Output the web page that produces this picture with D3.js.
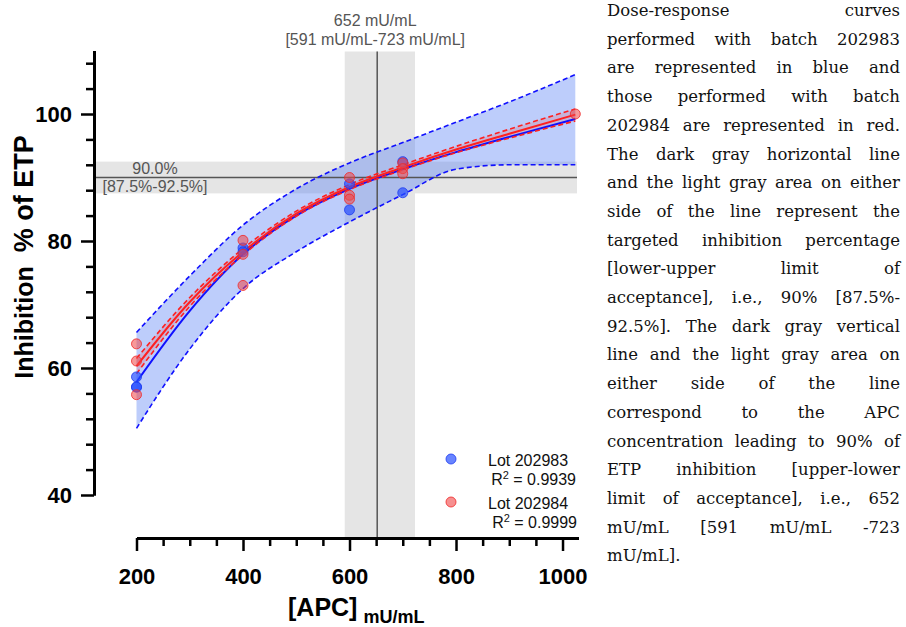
<!DOCTYPE html>
<html>
<head>
<meta charset="utf-8">
<script src="https://cdn.jsdelivr.net/npm/d3@7"></script>
<style>
body{margin:0;background:#fff}
svg{display:block}
</style>
</head>
<body>
<svg id="chart" width="906" height="627"></svg>
<script>
// measured points, APC in mU/mL vs % inhibition of ETP
var lotA_x = [200, 200, 200, 400, 400, 600, 600, 700, 700];
var lotA_y = [58.6, 57.0, 57.0, 78.9, 78.3, 89.0, 84.9, 92.5, 87.6];
var lotB_x = [200, 200, 200, 400, 400, 400, 600, 600, 600, 700, 700, 700, 1024];
var lotB_y = [63.8, 61.1, 55.8, 80.1, 77.9, 73.0, 90.0, 87.2, 86.6, 92.3, 91.4, 90.6, 100.0];

// fitted curves + confidence bands
var curveDose = [200, 300, 400, 500, 600, 700, 800, 900, 1024];
var lotA_fit = [57.8, 69.0, 77.9, 84.0, 88.2, 91.3, 94.0, 96.4, 99.2];
var lotA_hi  = [65.6, 74.5, 82.5, 88.2, 92.3, 95.5, 98.7, 101.9, 106.2];
var lotA_lo  = [50.5, 63.0, 72.5, 78.3, 83.0, 87.3, 91.3, 92.0, 92.0];
var lotB_fit = [60.3, 70.4, 78.3, 84.3, 88.5, 91.6, 94.4, 96.9, 99.9];
var lotB_hi  = [61.5, 71.1, 78.8, 84.7, 88.9, 92.0, 94.9, 97.6, 100.8];
var lotB_lo  = [59.1, 69.7, 77.8, 83.9, 88.1, 91.2, 93.9, 96.2, 98.9];

// target lines
var target = [90.0, 87.5, 92.5];
var apc90 = [652, 591, 723];

var xMajor = [200, 400, 600, 800, 1000];
var yMajor = [40, 60, 80, 100];
var legendNames = ["Lot 202983", "Lot 202984"];
var legendR2 = ["0.9939", "0.9999"];

var noteLines = [
 "Dose-response curves",
 "performed with batch 202983",
 "are represented in blue and",
 "those performed with batch",
 "202984 are represented in red.",
 "The dark gray horizontal line",
 "and the light gray area on either",
 "side of the line represent the",
 "targeted inhibition percentage",
 "[lower-upper limit of",
 "acceptance], i.e., 90% [87.5%-",
 "92.5%]. The dark gray vertical",
 "line and the light gray area on",
 "either side of the line",
 "correspond to the APC",
 "concentration leading to 90% of",
 "ETP inhibition [upper-lower",
 "limit of acceptance], i.e., 652",
 "mU/mL [591 mU/mL -723",
 "mU/mL]."
];

var svg = d3.select("#chart");
var sans = "Liberation Sans, Arial, Helvetica, sans-serif";

var x = d3.scaleLinear().domain([200, 1030]).range([136.5, 578.5]);
var y = d3.scaleLinear().domain([40, 110]).range([495, 50.5]);
var xEnd = x(1030) - 1.5;

// gray acceptance bands
svg.append("rect")
  .attr("x", 94).attr("width", xEnd - 94)
  .attr("y", y(target[2])).attr("height", y(target[1]) - y(target[2]))
  .attr("fill", "#e5e5e5");
svg.append("rect")
  .attr("x", x(apc90[1])).attr("width", x(apc90[2]) - x(apc90[1]))
  .attr("y", 51.5).attr("height", 538 - 51.5)
  .attr("fill", "#e5e5e5");

var pairs = function(xs, ys){ return d3.zip(xs, ys); };

// confidence bands
var band = d3.area()
  .x(function(d){ return x(d[0]); })
  .y0(function(d){ return y(d[1]); })
  .y1(function(d){ return y(d[2]); })
  .curve(d3.curveMonotoneX);
svg.append("path")
  .datum(d3.zip(curveDose, lotA_lo, lotA_hi))
  .attr("d", band)
  .attr("fill", "rgba(90,130,245,0.4)");
svg.append("path")
  .datum(d3.zip(curveDose, lotB_lo, lotB_hi))
  .attr("d", band)
  .attr("fill", "rgba(240,60,60,0.18)");

// target lines
svg.append("line")
  .attr("x1", 94).attr("x2", xEnd)
  .attr("y1", y(target[0])).attr("y2", y(target[0]))
  .attr("stroke", "#555").attr("stroke-width", 1.5);
svg.append("line")
  .attr("x1", x(apc90[0])).attr("x2", x(apc90[0]))
  .attr("y1", 51.5).attr("y2", 538)
  .attr("stroke", "#555").attr("stroke-width", 1.5);

var line = d3.line()
  .x(function(d){ return x(d[0]); })
  .y(function(d){ return y(d[1]); })
  .curve(d3.curveMonotoneX);

function drawCurve(ys, col, w, dash){
  svg.append("path")
    .datum(pairs(curveDose, ys))
    .attr("d", line)
    .attr("fill", "none")
    .attr("stroke", col)
    .attr("stroke-width", w)
    .attr("stroke-dasharray", dash);
}
drawCurve(lotA_hi, "#1010ff", 1.6, "5,3");
drawCurve(lotA_lo, "#1010ff", 1.6, "5,3");
drawCurve(lotA_fit, "#1010ff", 2, null);
drawCurve(lotB_hi, "#ff2020", 1.6, "5,3");
drawCurve(lotB_lo, "#ff2020", 1.6, "5,3");
drawCurve(lotB_fit, "#ff2020", 2, null);

// points
svg.append("g").selectAll("circle")
  .data(pairs(lotA_x, lotA_y)).join("circle")
  .attr("cx", function(d){ return x(d[0]); })
  .attr("cy", function(d){ return y(d[1]); })
  .attr("r", 5)
  .attr("fill", "rgba(40,80,255,0.7)")
  .attr("stroke", "rgba(30,60,240,0.8)").attr("stroke-width", 1);
svg.append("g").selectAll("circle")
  .data(pairs(lotB_x, lotB_y)).join("circle")
  .attr("cx", function(d){ return x(d[0]); })
  .attr("cy", function(d){ return y(d[1]); })
  .attr("r", 5)
  .attr("fill", "rgba(240,70,70,0.55)")
  .attr("stroke", "rgba(240,40,40,0.8)").attr("stroke-width", 1);

// band labels
var lab = svg.append("g").attr("font-family", sans).attr("font-size", 16).attr("fill", "#555").attr("text-anchor", "middle");
lab.append("text").attr("x", x(apc90[0]) - 2).attr("y", 26).text(apc90[0] + " mU/mL");
lab.append("text").attr("x", x(apc90[0]) - 2).attr("y", 45).text("[" + apc90[1] + " mU/mL-" + apc90[2] + " mU/mL]");
lab.append("text").attr("x", 155).attr("y", 174).text(target[0].toFixed(1) + "%");
lab.append("text").attr("x", 155).attr("y", 192).text("[" + target[1] + "%-" + target[2] + "%]");

// axes
var yAxis = svg.append("g").attr("transform", "translate(94,0)")
  .call(d3.axisLeft(y).tickValues(yMajor).tickSize(13).tickPadding(9).tickSizeOuter(0));
var yMinor = svg.append("g").attr("transform", "translate(94,0)")
  .call(d3.axisLeft(y).tickValues(d3.range(44, 110, 4).filter(function(v){ return v % 20 !== 0; })).tickSize(8).tickFormat("").tickSizeOuter(0));
var xAxis = svg.append("g").attr("transform", "translate(0,538)")
  .call(d3.axisBottom(x).tickValues(xMajor).tickFormat(d3.format("d")).tickSize(13).tickPadding(17).tickSizeOuter(0));
var xMinor = svg.append("g").attr("transform", "translate(0,538)")
  .call(d3.axisBottom(x).tickValues(d3.range(250, 1000, 50).filter(function(v){ return v % 200 !== 0; })).tickSize(8).tickFormat("").tickSizeOuter(0));

[yAxis, yMinor, xAxis, xMinor].forEach(function(g){
  g.select(".domain").attr("stroke", "#000").attr("stroke-width", 3);
  g.selectAll(".tick line").attr("stroke", "#000").attr("stroke-width", 2.5);
  g.selectAll("text").attr("font-family", sans).attr("font-size", 22)
    .attr("font-weight", "bold").attr("fill", "#000");
});

// axis titles
var yt = svg.append("text")
  .attr("transform", "translate(33,257) rotate(-90)")
  .attr("text-anchor", "middle")
  .attr("font-family", sans).attr("font-size", 25).attr("font-weight", "bold");
yt.append("tspan").text("Inhibition");
yt.append("tspan").attr("dx", 14).attr("font-size", 27).text("% of ETP");
var xt = svg.append("text")
  .attr("x", 288).attr("y", 616)
  .attr("font-family", sans).attr("font-weight", "bold").attr("font-size", 25);
xt.append("tspan").text("[APC]");
xt.append("tspan").attr("dx", 6).attr("dy", 7).attr("font-size", 18).text("mU/mL");

// legend
var legCol = ["rgba(40,80,255,0.7)", "rgba(240,70,70,0.6)"];
var legStroke = ["rgba(30,60,240,0.8)", "rgba(240,40,40,0.8)"];
var legY = [466, 509];
var leg = svg.append("g").attr("font-family", sans).attr("font-size", 16).attr("fill", "#111");
legendNames.forEach(function(n, i){
  leg.append("circle").attr("cx", 451).attr("cy", legY[i] - 7).attr("r", 5)
    .attr("fill", legCol[i]).attr("stroke", legStroke[i]);
  leg.append("text").attr("x", 488).attr("y", legY[i]).text(n);
  var r = leg.append("text").attr("x", 576 + i).attr("y", legY[i] + 19).attr("text-anchor", "end");
  r.append("tspan").text("R");
  r.append("tspan").attr("dy", -6).attr("font-size", 11).text("2");
  r.append("tspan").attr("dy", 6).text(" = " + legendR2[i]);
});

// caption on the right, justified line by line
var boxX = 607, boxW = 293;
var note = svg.append("g").attr("font-family", "DejaVu Serif, serif").attr("font-size", 16.5).attr("fill", "#111");
noteLines.forEach(function(s, i){
  var yb = 16 + i * 28.7;
  var words = s.split(" ");
  var ts = words.map(function(w){ return note.append("text").attr("y", yb).text(w); });
  var widths = ts.map(function(t){ return t.node().getComputedTextLength(); });
  var total = d3.sum(widths);
  var gap = (i === noteLines.length - 1 || words.length < 2) ? 5 : (boxW - total) / (words.length - 1);
  var xx = boxX;
  ts.forEach(function(t, j){ t.attr("x", xx); xx += widths[j] + gap; });
});
</script>
</body>
</html>
